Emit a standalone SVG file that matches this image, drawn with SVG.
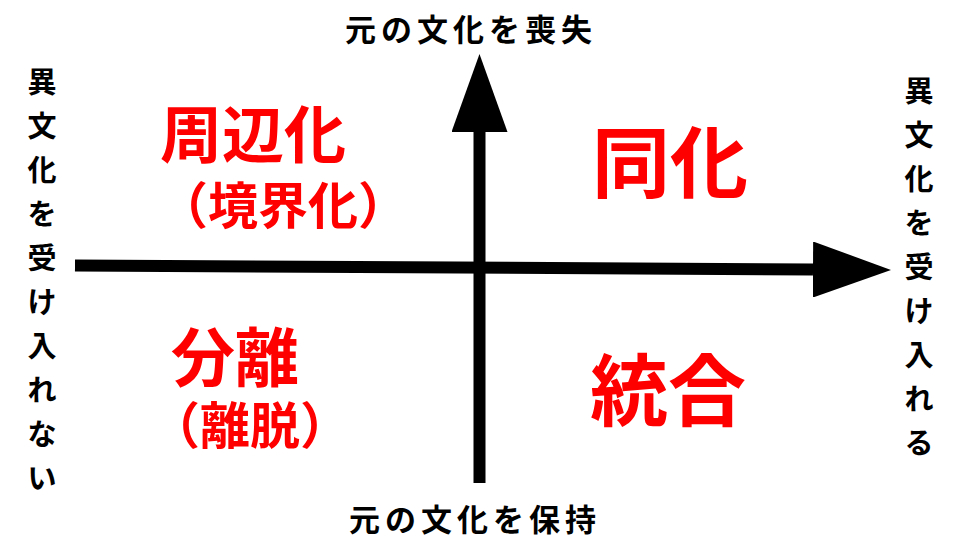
<svg xmlns="http://www.w3.org/2000/svg" width="960" height="540" viewBox="0 0 960 540">
<style>
.axis{stroke:#000;stroke-width:12;fill:none}
.lbl{font-family:"Noto Sans CJK JP","Noto Sans CJK SC",sans-serif;font-weight:bold;fill:#000}
.h{font-size:31px;letter-spacing:5px;text-anchor:middle}
.v{font-size:29px;text-anchor:middle}
.red{font-family:"Noto Sans CJK JP","Noto Sans CJK SC",sans-serif;font-weight:bold;fill:#ff0000;text-anchor:middle}
</style>
<defs>
<marker id="arr" viewBox="0 0 78 56" markerWidth="78" markerHeight="56" refX="0" refY="28" orient="auto" markerUnits="userSpaceOnUse">
<path d="M0,0 L78,28 L0,56 Z" fill="#000"/>
</marker>
</defs>
<rect width="960" height="540" fill="#fff"/>
<g id="connectors">
<line class="axis" x1="75" y1="265.5" x2="813" y2="269.5" marker-end="url(#arr)"/>
<line class="axis" x1="479.5" y1="483" x2="479.5" y2="132" marker-end="url(#arr)"/>
</g>
<g id="top-label"><text class="lbl h" x="471" y="41">元の文化を喪失</text></g>
<g id="bottom-label"><text class="lbl h" x="475" y="531">元の文化を保持</text></g>
<g id="left-label"><text class="lbl v">
<tspan x="42" y="93">異</tspan><tspan x="42" y="137">文</tspan><tspan x="42" y="181">化</tspan><tspan x="42" y="225">を</tspan><tspan x="42" y="269">受</tspan><tspan x="42" y="313">け</tspan><tspan x="42" y="357">入</tspan><tspan x="42" y="401">れ</tspan><tspan x="42" y="445">な</tspan><tspan x="42" y="489">い</tspan>
</text></g>
<g id="right-label"><text class="lbl v">
<tspan x="919" y="102">異</tspan><tspan x="919" y="146">文</tspan><tspan x="919" y="190">化</tspan><tspan x="919" y="234">を</tspan><tspan x="919" y="278">受</tspan><tspan x="919" y="322">け</tspan><tspan x="919" y="366">入</tspan><tspan x="919" y="410">れ</tspan><tspan x="919" y="454">る</tspan>
</text></g>
<g id="marginalization">
<text class="red" x="253" y="158" font-size="62">周辺化</text>
<text class="red" x="283" y="224" font-size="50">（境界化）</text>
</g>
<g id="assimilation"><text class="red" x="670" y="192" font-size="78">同化</text></g>
<g id="separation">
<text class="red" x="235" y="381" font-size="64">分離</text>
<text class="red" x="250" y="444" font-size="50">（離脱）</text>
</g>
<g id="integration"><text class="red" x="668" y="420" font-size="78">統合</text></g>
</svg>
